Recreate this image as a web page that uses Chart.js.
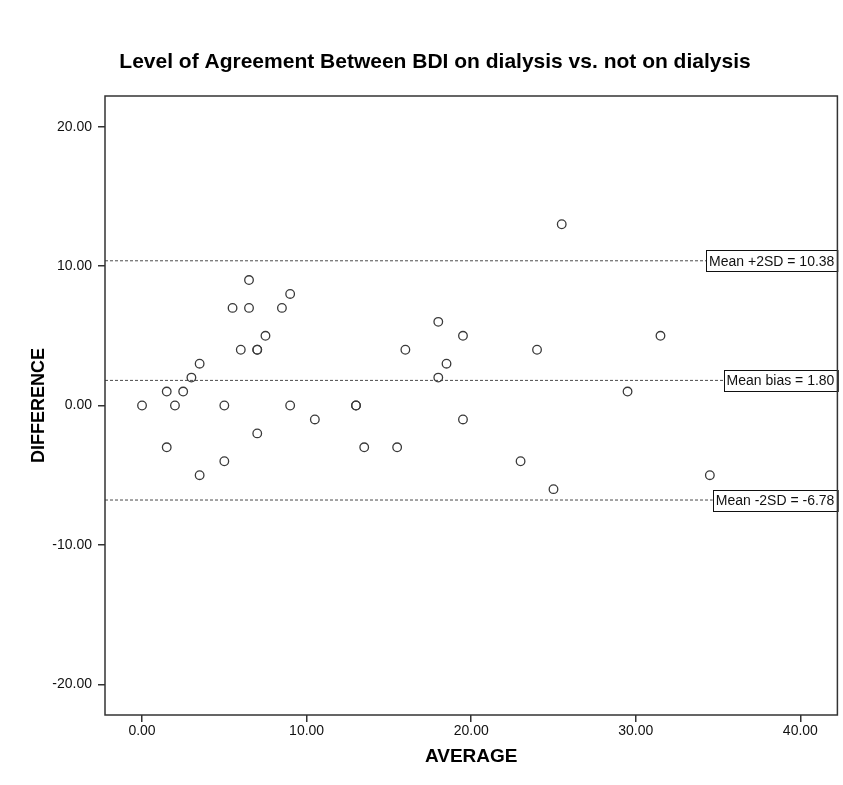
<!DOCTYPE html>
<html>
<head>
<meta charset="utf-8">
<script src="https://cdn.jsdelivr.net/npm/chart.js@4.4.1/dist/chart.umd.min.js"></script>
<style>
  html, body { margin: 0; padding: 0; background: #fff; }
  canvas { display: block; }
</style>
</head>
<body>
<canvas id="chart" width="843" height="785"></canvas>
<script>
// Bland-Altman data: mean of the two BDI scores vs. their difference
const averages = [0, 1.5, 1.5, 2, 2.5, 3, 3.5, 3.5, 5, 5, 5.5, 6, 6.5, 6.5, 7, 7, 7, 7.5, 8.5, 9, 9,
  10.5, 13, 13, 13.5, 15.5, 16, 18, 18, 18.5, 19.5, 19.5, 23, 24, 25, 25.5, 29.5, 31.5, 34.5];
const differences = [0, 1, -3, 0, 1, 2, 3, -5, 0, -4, 7, 4, 9, 7, 4, 4, -2, 5, 7, 8, 0,
  -1, 0, 0, -3, -3, 4, 6, 2, 3, 5, -1, -4, 4, -6, 13, 1, 5, -5];

// Limits of agreement and bias
const limitNames = ['Mean +2SD', 'Mean bias', 'Mean -2SD'];
const limitValues = [10.38, 1.80, -6.78];

// Axis ticks and ranges
const xTicks = [0, 10, 20, 30, 40];
const yTicks = [-20, -10, 0, 10, 20];
const xRange = [-2.25, 42.25];
const yRange = [-22.2, 22.2];

const FONT = "'Liberation Sans', Arial, sans-serif";
const INK = '#333';

const points = averages.map((a, i) => ({ x: a, y: differences[i] }));

const limitDatasets = limitValues.map((v, i) => ({
  type: 'line',
  label: limitNames[i],
  data: [{ x: xRange[0], y: v }, { x: xRange[1], y: v }],
  borderColor: '#4a4a4a',
  borderWidth: 1,
  borderDash: [3, 2],
  pointRadius: 0,
  fill: false,
  order: 2
}));

// Frame around the plotting region
const framePlugin = {
  id: 'frame',
  afterDraw(chart) {
    const { ctx, chartArea: a } = chart;
    ctx.save();
    ctx.strokeStyle = INK;
    ctx.lineWidth = 1.5;
    ctx.strokeRect(a.left, a.top, a.right - a.left, a.bottom - a.top);
    ctx.restore();
  }
};

// Boxed labels at the right end of each reference line
const limitLabelPlugin = {
  id: 'limitLabels',
  afterDatasetsDraw(chart) {
    const { ctx, chartArea: a } = chart;
    const yScale = chart.scales.y;
    ctx.save();
    ctx.font = '14px ' + FONT;
    ctx.textBaseline = 'middle';
    limitValues.forEach((v, i) => {
      const text = limitNames[i] + ' = ' + v.toFixed(2);
      const y = yScale.getPixelForValue(v);
      const w = ctx.measureText(text).width + 6;
      const h = 21;
      const left = a.right - w;
      ctx.fillStyle = '#fff';
      ctx.fillRect(left, y - h / 2, w, h);
      ctx.strokeStyle = '#111';
      ctx.lineWidth = 1;
      ctx.strokeRect(Math.round(left) + 0.5, Math.round(y - h / 2) + 0.5, w, h);
      ctx.fillStyle = '#111';
      ctx.fillText(text, left + 3, y + 1);
    });
    ctx.restore();
  }
};

new Chart(document.getElementById('chart'), {
  type: 'scatter',
  data: {
    datasets: [
      {
        label: 'DIFFERENCE',
        data: points,
        pointStyle: 'circle',
        pointRadius: 4.3,
        pointBorderWidth: 1.3,
        pointBorderColor: '#3a3a3a',
        pointBackgroundColor: 'rgba(255,255,255,0)',
        showLine: false,
        order: 1
      },
      ...limitDatasets
    ]
  },
  options: {
    responsive: false,
    animation: false,
    events: [],
    layout: { padding: { left: 32, right: 5, top: 0, bottom: 0 } },
    plugins: {
      legend: { display: false },
      tooltip: { enabled: false },
      title: {
        display: true,
        text: 'Level of Agreement Between BDI on dialysis vs. not on dialysis',
        color: '#000',
        font: { family: FONT, size: 21, weight: 'bold' },
        padding: { top: 50, bottom: 20.8 }
      }
    },
    scales: {
      x: {
        type: 'linear',
        min: xRange[0],
        max: xRange[1],
        afterBuildTicks(scale) { scale.ticks = xTicks.map(v => ({ value: v })); },
        afterFit(scale) { scale.height = 70; },
        border: { display: false },
        grid: { drawOnChartArea: false, drawTicks: true, tickLength: 7, color: INK, lineWidth: 1.5 },
        ticks: {
          padding: 1,
          color: '#111',
          font: { family: FONT, size: 14 },
          callback: v => v.toFixed(2)
        },
        title: {
          display: true,
          text: 'AVERAGE',
          color: '#000',
          font: { family: FONT, size: 19, weight: 'bold' },
          padding: { top: 0, bottom: 16.5 }
        }
      },
      y: {
        type: 'linear',
        min: yRange[0],
        max: yRange[1],
        afterBuildTicks(scale) { scale.ticks = yTicks.map(v => ({ value: v })); },
        afterFit(scale) { scale.width = 73; },
        border: { display: false },
        grid: { drawOnChartArea: false, drawTicks: true, tickLength: 7, color: INK, lineWidth: 1.5 },
        ticks: {
          padding: 6,
          color: '#111',
          font: { family: FONT, size: 14 },
          callback: v => v.toFixed(2)
        },
        title: {
          display: true,
          text: 'DIFFERENCE',
          color: '#000',
          font: { family: FONT, size: 18, weight: 'bold', lineHeight: 1 },
          padding: { top: -2, bottom: 0 }
        }
      }
    }
  },
  plugins: [limitLabelPlugin, framePlugin]
});
</script>
</body>
</html>
